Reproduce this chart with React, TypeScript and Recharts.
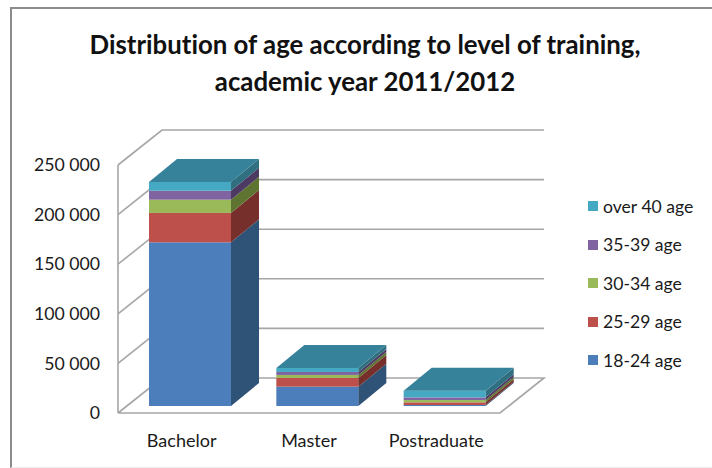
import { BarChart, Bar, XAxis, YAxis, CartesianGrid, Legend } from 'recharts';

const categories = ['Bachelor', 'Master', 'Postraduate'];
const age18to24 = [165000, 19500, 1000];
const age25to29 = [29600, 8800, 2700];
const age30to34 = [13400, 3000, 2300];
const age35to39 = [9000, 3000, 2700];
const over40 = [8800, 4000, 6700];
const yTicks = [0, 50000, 100000, 150000, 200000, 250000];

const rows = categories.map((name, i) => ({
  name,
  a: age18to24[i],
  b: age25to29[i],
  c: age30to34[i],
  d: age35to39[i],
  e: over40[i],
}));

const series = [
  { key: 'a', label: '18-24 age', front: '#4c7ebb', side: '#2f5277' },
  { key: 'b', label: '25-29 age', front: '#be504c', side: '#772f2c' },
  { key: 'c', label: '30-34 age', front: '#9aba59', side: '#5f7431' },
  { key: 'd', label: '35-39 age', front: '#8064a2', side: '#4d3a62' },
  { key: 'e', label: 'over 40 age', front: '#46a9c4', side: '#2f6f80' },
];

const FONT = 'Lato, sans-serif';
const GRID = '#a6a6a6';
const TOP = '#36829a';

// fake 3D: wall depth and bar depth, in px
const WALL_X = 44;
const WALL_Y = 35;
const BAR_X = 28;
const BAR_Y = 23;
const BAR_SHIFT_X = 8;
const BAR_SHIFT_Y = 7;

const formatTick = (v: number) => String(v).replace(/\B(?=(\d{3})+$)/g, ' ');

const makeShape = (s: (typeof series)[number], isTop: boolean) => (props: any) => {
  const x = props.x + BAR_SHIFT_X;
  const y = props.y - BAR_SHIFT_Y;
  const { width, height } = props;
  const r = x + width;
  return (
    <g>
      <rect x={x} y={y} width={width} height={height} fill={s.front} />
      <polygon
        points={`${r},${y} ${r + BAR_X},${y - BAR_Y} ${r + BAR_X},${y + height - BAR_Y} ${r},${y + height}`}
        fill={s.side}
      />
      {isTop && (
        <polygon
          points={`${x},${y} ${r},${y} ${r + BAR_X},${y - BAR_Y} ${x + BAR_X},${y - BAR_Y}`}
          fill={TOP}
        />
      )}
    </g>
  );
};

const gridLine = (props: any) => {
  const { x1, x2, y1 } = props;
  const points = [`${x1},${y1}`, `${x1 + WALL_X},${y1 - WALL_Y}`, `${x2 + WALL_X},${y1 - WALL_Y}`];
  if (y1 > 400) points.push(`${x2},${y1}`, `${x1},${y1}`);
  return <polyline key={y1} points={points.join(' ')} fill="none" stroke={GRID} strokeWidth={1.6} />;
};

const renderLegend = () => (
  <div style={{ fontFamily: FONT, fontSize: 17.6, color: '#1a1a1a', fontVariantLigatures: 'none' }}>
    {[...series].reverse().map((s) => (
      <div key={s.key} style={{ height: 38.5, display: 'flex', alignItems: 'center' }}>
        <span style={{ width: 10, height: 10, background: s.front, marginRight: 5 }} />
        {s.label}
      </div>
    ))}
  </div>
);

export default function App() {
  return (
    <div
      style={{
        position: 'absolute',
        left: 0,
        top: 0,
        width: 712,
        height: 468,
        background: '#fff',
        overflow: 'hidden',
      }}
    >
      <div
        style={{
          position: 'absolute',
          left: 10,
          top: 7,
          width: 720,
          height: 461,
          borderLeft: '2px solid #8c8c8c',
          borderTop: '2px solid #8c8c8c',
          borderBottom: '1px solid #eeeeee',
          boxSizing: 'border-box',
        }}
      />
      <div
        style={{
          position: 'absolute',
          left: 0,
          width: 730,
          top: 26,
          textAlign: 'center',
          fontFamily: FONT,
          fontWeight: 700,
          fontSize: 25.8,
          lineHeight: '37px',
          color: '#111',
          fontVariantLigatures: 'none',
        }}
      >
        Distribution of age according to level of training,
        <br />
        academic year 2011/2012
      </div>
      <BarChart
        width={712}
        height={468}
        data={rows}
        margin={{ left: 0, right: 88, top: 165, bottom: 0 }}
        style={{ position: 'absolute', left: 0, top: 0 }}
      >
        <CartesianGrid vertical={false} horizontal={gridLine} />
        <XAxis
          dataKey="name"
          height={55}
          axisLine={false}
          tickLine={false}
          interval={0}
          tick={{ fontFamily: FONT, fontSize: 18, fill: '#1a1a1a' }}
          tickMargin={15}
        />
        <YAxis
          width={118}
          domain={[0, 250000]}
          ticks={yTicks}
          tickFormatter={formatTick}
          axisLine={{ stroke: GRID, strokeWidth: 1.6 }}
          tickLine={false}
          tickMargin={12}
          tick={{ fontFamily: FONT, fontSize: 17.7, fill: '#1a1a1a' }}
        />
        <Legend
          layout="vertical"
          align="right"
          verticalAlign="top"
          content={renderLegend}
          wrapperStyle={{ left: 588, top: 187, width: 124 }}
        />
        {series.map((s, i) => (
          <Bar
            key={s.key}
            dataKey={s.key}
            name={s.label}
            stackId="age"
            barSize={82}
            fill={s.front}
            isAnimationActive={false}
            shape={makeShape(s, i === series.length - 1)}
          />
        ))}
      </BarChart>
    </div>
  );
}
